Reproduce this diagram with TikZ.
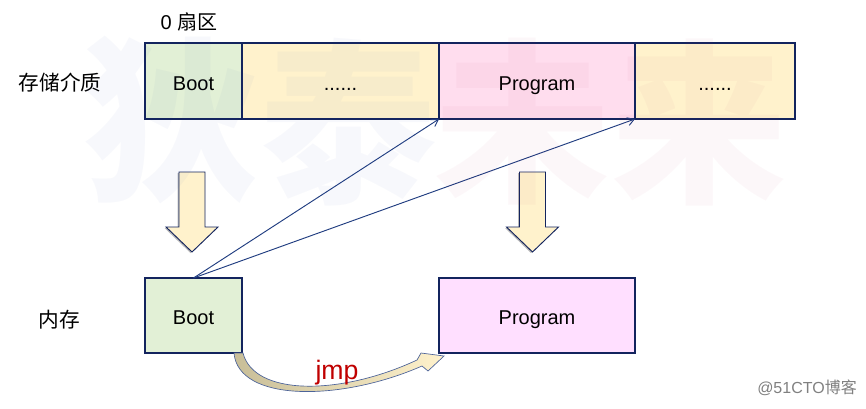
\documentclass[tikz,border=0pt]{standalone}
\usepackage{fontspec}
\setmainfont{Liberation Sans}
\newfontfamily\cjk{Noto Sans CJK SC}
\usetikzlibrary{arrows.meta}
\definecolor{navy}{HTML}{13245E}
\definecolor{lnavy}{HTML}{1F3C80}
\definecolor{bootfill}{HTML}{E2F0D6}
\definecolor{dotfill}{HTML}{FFF2CC}
\definecolor{progfill}{HTML}{FFDDEE}
\definecolor{progfillb}{HTML}{FFDFFF}
\definecolor{jmpred}{HTML}{C00000}
\definecolor{wmblue}{HTML}{3050B0}
\definecolor{wmpink}{HTML}{C03060}
\definecolor{tan}{HTML}{C8BE98}
\tikzset{
  cell/.style={draw=navy, line width=0.8pt, inner sep=0pt, outer sep=0pt,
    font=\fontsize{15}{18}\selectfont, text=black, text height=14pt, text depth=0.2pt},
  lbl/.style={inner sep=0pt, font=\cjk\fontsize{15.5}{18}\selectfont},
  link/.style={draw=lnavy, line width=0.7pt, -{Straight Barb[length=5pt,width=6pt]}},
  wm/.style={inner sep=0pt, font=\cjk\bfseries\fontsize{132}{132}\selectfont, opacity=0.035},
  blockdown/.pic={
    \fill[gray!55] (-14.5,1) -- (11.5,1) -- (11.5,56) -- (24.5,56) -- (-1.5,81) -- (-27.5,56) -- (-14.5,56) -- cycle;
    \draw[navy, line width=0.7pt, fill=dotfill] (-13,0) -- (13,0) -- (13,55) -- (26,55) -- (0,80) -- (-26,55) -- (-13,55) -- cycle;
  }
}
\begin{document}
\begin{tikzpicture}[x=0.75pt,y=-0.75pt]
\useasboundingbox (0,0) rectangle (866,408);
\fill[white] (0,0) rectangle (866,408);

% watermark (behind the white areas only visible faintly)
% top row
\node[cell, fill=bootfill, minimum width=72.75pt, minimum height=57pt] (tboot) at (193.5,81) {Boot};
\node[cell, fill=dotfill, minimum width=147.75pt, minimum height=57pt] (tdots1) at (340.5,81) {......};
\node[cell, fill=progfill, minimum width=147pt, minimum height=57pt] (tprog) at (537,81) {Program};
\node[cell, fill=dotfill, minimum width=120pt, minimum height=57pt] (tdots2) at (715,81) {......};

% bottom row
\node[cell, fill=bootfill, minimum width=72.75pt, minimum height=56.25pt] (bboot) at (193.5,315.5) {Boot};
\node[cell, fill=progfillb, minimum width=147pt, minimum height=56.25pt] (bprog) at (537,315.5) {Program};

% labels
\node[inner sep=0pt, font=\fontsize{15}{18}\selectfont] (sector) at (189,22) {0 {\cjk 扇区}};
\node[lbl] (media) at (60,83) {存储介质};
\node[lbl] (mem) at (59,320) {内存};

% block arrows
\pic (dl) at (192,172) {blockdown};
\pic (dr) at (532.5,172) {blockdown};

% links
\draw[link] (bboot.north) -- (tprog.south west);
\draw[link] (bboot.north) -- (tdots2.south west);

% curved jmp arrow
\shade[left color=tan, right color=dotfill, draw=lnavy!80, line width=0.5pt]
  (234,353) .. controls (238,402) and (340,402) .. (422,366)
  -- (428,371) -- (444,356) -- (421,353) -- (417,360)
  .. controls (340,396) and (254,396) .. (243,353) -- cycle;
\node[inner sep=0pt, text=jmpred, font=\fontsize{20}{22}\selectfont] (jmp) at (337,373) {jmp};

% watermark
\node[wm, text=wmblue] (w1) at (171,120) {狄};
\node[wm, text=wmblue] (w2) at (348,122) {泰};
\node[wm, text=wmpink] (w3) at (522,122) {未};
\node[wm, text=wmpink] (w4) at (699,122) {来};

% credit
\node[inner sep=0pt, text=gray, font=\fontsize{12}{14}\selectfont] (credit) at (807,388) {@51CTO{\cjk 博客}};
\end{tikzpicture}
\end{document}
